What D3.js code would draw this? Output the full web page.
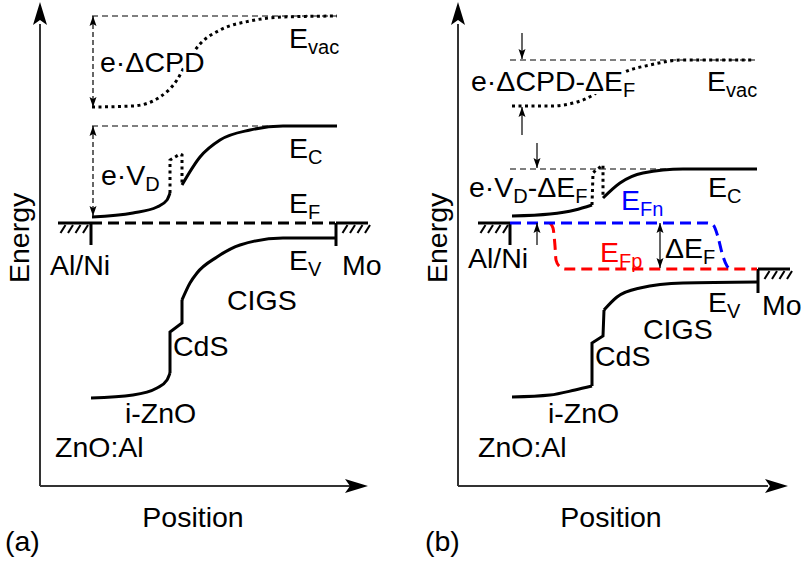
<!DOCTYPE html>
<html>
<head>
<meta charset="utf-8">
<script src="https://cdn.jsdelivr.net/npm/d3@7"></script>
<style>
  body { margin: 0; background: #fff; }
  text { font-family: "Liberation Sans", Arial, sans-serif; fill: #000; }
</style>
</head>
<body>
<div id="chart"></div>
<script>
// Band edges as [position, energy] in arbitrary units (origin at the axes corner)

// panel (a): equilibrium
const evacA = [[52,379],[93,380],[120,389],[137,406],[147,424],[160,442],[180,456],[210,465],[243,469],[297,470]];
const ecLeftA = [[52,269],[93,273],[117,279],[127,286],[130,293]];
const ecSpikeA = [[130,293],[130,326],[140,332],[142,331],[142,301]];
const ecRightA = [[142,301],[160,329],[180,346],[210,356],[243,360],[297,360]];
const evLeftA = [[51,88],[93,91],[117,98],[127,106],[130,113]];
const evStepA = [[130,113],[130,154],[142,163],[142,186]];
const evRightA = [[142,186],[150,203],[157,213],[177,229],[200,241],[243,248],[296,248]];
const efA = [[51,263],[295,263]];
const refLevelsA = [470, 360];          // dashed levels of E_vac and E_C far from the contact

// panel (b): under illumination
const evacB = [[54,380],[92,380],[119,384],[135,391],[150,403],[165,413],[192,421],[225,426],[295,426]];
const ecLeftB = [[54,270],[92,272],[117,276],[134,281]];
const ecSpikeB = [[134,281],[135,313],[138,316],[145,321],[145,288]];
const ecRightB = [[145,288],[162,303],[185,313],[225,317],[299,317]];
const evLeftB = [[54,89],[92,91],[117,96],[134,100]];
const evStepB = [[134,100],[134,143],[145,150],[146,176]];
const evRightB = [[146,176],[159,189],[182,198],[225,203],[300,204]];
const efnB = [[52,263],[249,263],[255,261],[260,249],[264,233],[269,220],[272,217]];
const efpB = [[92,263],[95,258],[97,240],[98,226],[101,220],[107,217],[299,217]];
const refLevelsB = [426, 317];

// label anchors [text, position, energy, halo]
const labelsA = [
  ["e·ΔCPD", 60, 414, true], ["E_{vac}", 249, 438], ["e·V_{D}", 61, 301], ["E_{C}", 249, 328],
  ["E_{F}", 249, 273], ["Al/Ni", 10, 211], ["E_{V}", 249, 216], ["Mo", 302, 211],
  ["CIGS", 187, 176], ["CdS", 133, 130], ["i-ZnO", 85, 63], ["ZnO:Al", 15, 29]
];
const labelsB = [
  ["e·ΔCPD-ΔE_{F}", 13, 395, true], ["E_{vac}", 249, 395], ["e·V_{D}-ΔE_{F}", 11, 289], ["E_{C}", 250, 289],
  ["ΔE_{F}", 207, 228], ["Al/Ni", 10, 218], ["E_{V}", 250, 174], ["Mo", 304, 171],
  ["CIGS", 185, 147], ["CdS", 137, 120], ["i-ZnO", 90, 63], ["ZnO:Al", 20, 29]
];
const colorLabelsB = [["E_{Fn}", 163, 276, "#0000ff"], ["E_{Fp}", 142, 224, "#ff0000"]];

const width = 807, height = 563;
const svg = d3.select("#chart").append("svg")
    .attr("width", width)
    .attr("height", height);

const defs = svg.append("defs");
defs.append("marker")
    .attr("id", "head")
    .attr("viewBox", "0 -4 10 8")
    .attr("refX", 10)
    .attr("refY", 0)
    .attr("markerUnits", "userSpaceOnUse")
    .attr("markerWidth", 10)
    .attr("markerHeight", 8)
    .attr("orient", "auto-start-reverse")
    .append("path")
    .attr("d", "M0,-3.5L10,0L0,3.5L2,0Z")
    .attr("fill", "#000");

function drawPanel(p) {
  const g = svg.append("g");
  const x = d3.scaleLinear().domain([0, 330]).range([p.x0, p.x0 + 330]);
  const y = d3.scaleLinear().domain([0, 480]).range([486, 6]);
  const line = curve => d3.line().x(d => x(d[0])).y(d => y(d[1])).curve(curve);

  // axes with arrow heads
  g.append("line")
      .attr("x1", x(0)).attr("y1", y(0)).attr("x2", x(0)).attr("y2", y(462))
      .attr("stroke", "#333").attr("stroke-width", 2);
  g.append("line")
      .attr("x1", x(0)).attr("y1", y(0)).attr("x2", x(310)).attr("y2", y(0))
      .attr("stroke", "#333").attr("stroke-width", 2);
  g.append("path")
      .attr("d", `M${x(0)},${y(484)}L${x(0) - 7},${y(461)}L${x(0)},${y(466)}L${x(0) + 7},${y(461)}Z`)
      .attr("fill", "#000");
  g.append("path")
      .attr("d", `M${x(p.xTip)},${y(0)}L${x(p.xTip) - 23},${y(0) - 7}L${x(p.xTip) - 18},${y(0)}L${x(p.xTip) - 23},${y(0) + 7}Z`)
      .attr("fill", "#000");

  g.append("text")
      .attr("transform", `translate(${x(0) - 11},${y(203)}) rotate(-90)`)
      .style("font-size", "28.5px")
      .text("Energy");
  g.append("text")
      .attr("x", x(153)).attr("y", 527)
      .style("text-anchor", "middle")
      .style("font-size", "28.5px")
      .text("Position");
  g.append("text")
      .attr("x", p.tagX).attr("y", 551)
      .style("font-size", "28.5px")
      .text(p.tag);

  // thin dashed reference levels
  p.refLevels.forEach(E => {
    g.append("path")
        .attr("d", line(d3.curveLinear)([[52, E], [297, E]]))
        .attr("fill", "none").attr("stroke", "#000")
        .attr("stroke-width", 1.2).attr("stroke-dasharray", "6,4");
  });

  // metal contacts (hatched)
  p.contacts.forEach(c => {
    const [p0, p1, E, stemTo] = c;
    g.append("path")
        .attr("d", line(d3.curveLinear)([[p0, E], [p1, E]]))
        .attr("stroke", "#000").attr("stroke-width", 3);
    const stemX = c[4] === "left" ? p1 : p0;
    g.append("path")
        .attr("d", line(d3.curveLinear)([[stemX, E], [stemX, stemTo]]))
        .attr("stroke", "#000").attr("stroke-width", 3);
    d3.range(4).forEach(i => {
      const tx = x(p0) + (c[4] === "left" ? 6 : 10) + i * 7.5;
      g.append("line")
          .attr("x1", tx - 3.5).attr("y1", y(E) + 10)
          .attr("x2", tx + 1.5).attr("y2", y(E) + 2)
          .attr("stroke", "#000").attr("stroke-width", 2);
    });
  });

  // vacuum level (dotted)
  g.append("path")
      .attr("d", line(d3.curveMonotoneX)(p.evac))
      .attr("fill", "none").attr("stroke", "#000")
      .attr("stroke-width", 3).attr("stroke-dasharray", "3,3.5");

  // conduction band
  g.append("path").attr("d", line(d3.curveMonotoneX)(p.ecLeft))
      .attr("fill", "none").attr("stroke", "#000").attr("stroke-width", 3);
  g.append("path").attr("d", line(d3.curveLinear)(p.ecSpike))
      .attr("fill", "none").attr("stroke", "#000")
      .attr("stroke-width", 3).attr("stroke-dasharray", "3,3.5");
  g.append("path").attr("d", line(d3.curveMonotoneX)(p.ecRight))
      .attr("fill", "none").attr("stroke", "#000").attr("stroke-width", 3);

  // valence band
  g.append("path").attr("d", line(d3.curveMonotoneX)(p.evLeft))
      .attr("fill", "none").attr("stroke", "#000").attr("stroke-width", 3);
  g.append("path").attr("d", line(d3.curveLinear)(p.evStep))
      .attr("fill", "none").attr("stroke", "#000").attr("stroke-width", 3);
  g.append("path").attr("d", line(d3.curveMonotoneX)(p.evRight))
      .attr("fill", "none").attr("stroke", "#000").attr("stroke-width", 3);

  // Fermi levels
  p.fermi.forEach(f => {
    g.append("path")
        .attr("d", line(d3.curveMonotoneX)(f.data))
        .attr("fill", "none").attr("stroke", f.color)
        .attr("stroke-width", 3).attr("stroke-dasharray", "11,6");
  });

  // arrows
  p.arrows.forEach(a => {
    const [pos, E0, E1, both, dashed] = a;
    const path = g.append("path")
        .attr("d", line(d3.curveLinear)([[pos, E0], [pos, E1]]))
        .attr("fill", "none").attr("stroke", "#000")
        .attr("stroke-width", 1.2)
        .attr("marker-end", "url(#head)");
    if (both) path.attr("marker-start", "url(#head)");
    if (dashed) path.attr("stroke-dasharray", "5,3");
  });

  // labels, "_{..}" marks a subscript
  const drawLabel = (str, pos, E, color, halo) => {
    const t = g.append("text")
        .attr("x", x(pos)).attr("y", y(E))
        .style("font-size", "28.5px")
        .style("fill", color || "#000");
    if (halo) {
      t.attr("stroke", "#fff").attr("stroke-width", 6)
          .attr("stroke-linejoin", "round")
          .style("paint-order", "stroke");
    }
    const parts = str.split(/(_\{[^}]*\})/).filter(s => s.length);
    let shifted = false;
    parts.forEach(s => {
      if (s.startsWith("_{")) {
        t.append("tspan").attr("dy", shifted ? 0 : 6)
            .style("font-size", "20px").text(s.slice(2, -1));
        shifted = true;
      } else {
        t.append("tspan").attr("dy", shifted ? -6 : 0).text(s);
        shifted = false;
      }
    });
  };
  p.labels.forEach(l => drawLabel(l[0], l[1], l[2], null, l[3]));
  p.colorLabels.forEach(l => drawLabel(l[0], l[1], l[2], l[3]));
}

drawPanel({
  x0: 40, xTip: 328, tag: "(a)", tagX: 5,
  evac: evacA, ecLeft: ecLeftA, ecSpike: ecSpikeA, ecRight: ecRightA,
  evLeft: evLeftA, evStep: evStepA, evRight: evRightA,
  refLevels: refLevelsA,
  fermi: [{data: efA, color: "#000"}],
  contacts: [[18, 51, 263, 241, "left"], [296, 328, 263, 240, "right"]],
  arrows: [[53, 470, 379, true, true], [53, 360, 270, true, true]],
  labels: labelsA, colorLabels: []
});

drawPanel({
  x0: 458, xTip: 330, tag: "(b)", tagX: 425,
  evac: evacB, ecLeft: ecLeftB, ecSpike: ecSpikeB, ecRight: ecRightB,
  evLeft: evLeftB, evStep: evStepB, evRight: evRightB,
  refLevels: refLevelsB,
  fermi: [{data: efpB, color: "#ff0000"}, {data: efnB, color: "#0000ff"}],
  contacts: [[20, 52, 263, 241, "left"], [300, 332, 217, 193, "right"]],
  arrows: [[64, 453, 427, false, false], [64, 351, 379, false, false],
           [79, 343, 318, false, false], [79, 241, 263, false, false],
           [202, 263, 218, true, false]],
  labels: labelsB, colorLabels: colorLabelsB
});
</script>
</body>
</html>
